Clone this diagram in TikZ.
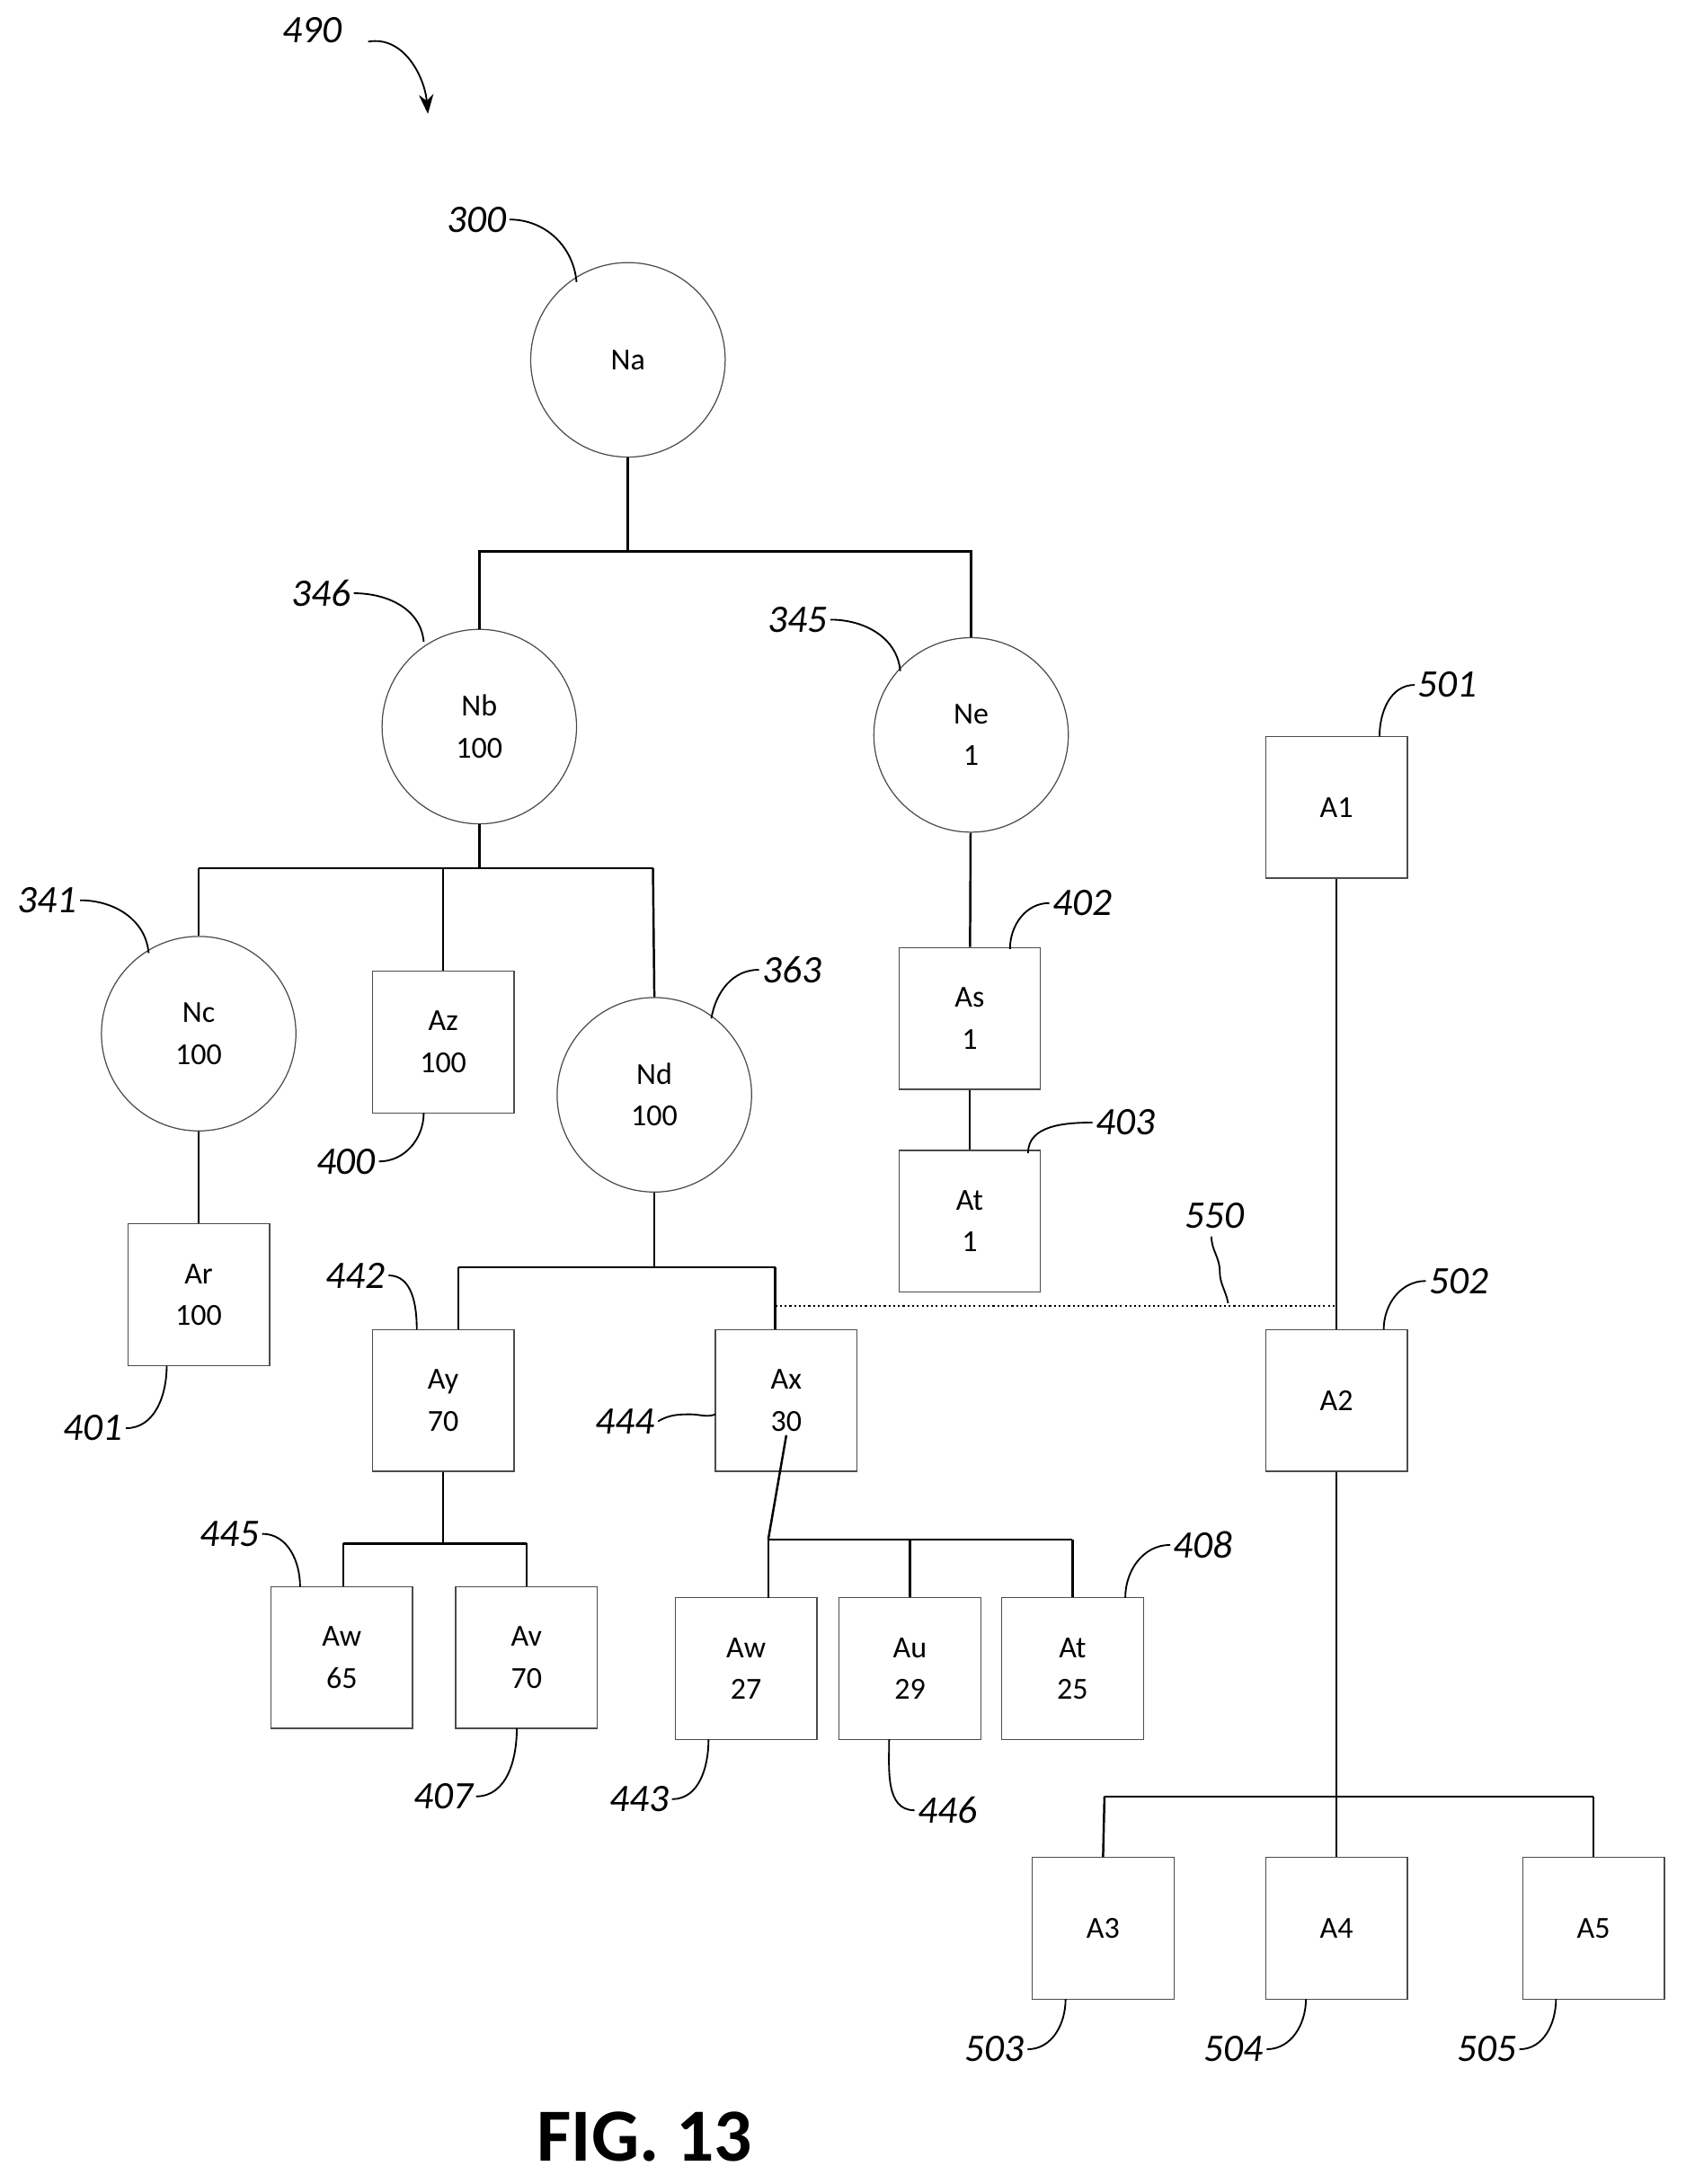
\documentclass[tikz,border=0pt]{standalone}
\usepackage{fontspec}
\setmainfont{Carlito}
\usetikzlibrary{arrows.meta}
\tikzset{
  circ/.style={circle,draw=black!70,minimum size=70pt,inner sep=0pt,align=center,font=\fontsize{11}{15}\selectfont},
  box/.style={rectangle,draw=black!70,minimum size=51pt,inner sep=0pt,align=center,font=\fontsize{11}{15}\selectfont},
  lbl/.style={font=\fontsize{14}{16}\selectfont\itshape,inner sep=1pt},
  wire/.style={draw=black,line width=0.8pt},
  lead/.style={draw=black,line width=0.6pt}
}
\begin{document}
\begin{tikzpicture}[x=0.5pt,y=-0.5pt]
\useasboundingbox (0,0) rectangle (1213,1572);
% tree nodes
\node[circ] (na) at (452,259) {Na};
\node[circ] (nb) at (345,523) {Nb\\100};
\node[circ] (ne) at (699,529) {Ne\\1};
\node[circ] (nc) at (143,744) {Nc\\100};
\node[box]  (az) at (319,750) {Az\\100};
\node[circ] (nd) at (471,788) {Nd\\100};
\node[box]  (ar) at (143,932) {Ar\\100};
\node[box]  (as) at (698,733) {As\\1};
\node[box]  (at) at (698,879) {At\\1};
\node[box]  (aone) at (962,581) {A1};
\node[box]  (atwo) at (962,1008) {A2};
\node[box]  (ay) at (319,1008) {Ay\\70};
\node[box]  (ax) at (566,1008) {Ax\\30};
\node[box]  (awa) at (246,1193) {Aw\\65};
\node[box]  (ava) at (379,1193) {Av\\70};
\node[box]  (awb) at (537,1201) {Aw\\27};
\node[box]  (aub) at (655,1201) {Au\\29};
\node[box]  (atb) at (772,1201) {At\\25};
\node[box]  (athree) at (794,1388) {A3};
\node[box]  (afour) at (962,1388) {A4};
\node[box]  (afive) at (1147,1388) {A5};
% connectors
\draw[wire] (na.south) -- (452,397) coordinate (j1);
\draw[wire] (349,397) -| (nb.north);
\draw[wire] (349,397) -- (699,397) -- (ne.north);
\draw[wire] (nb.south) -- (345,625);
\draw[wire] (143,625) -- (470,625);
\draw[wire] (143,625) -- (nc.north);
\draw[wire] (319,625) -- (az.north);
\draw[wire] (470,625) -- (nd.north);
\draw[wire] (nc) -- (ar);
\draw[wire] (ne) -- (as);
\draw[wire] (as) -- (at);
\draw[wire] (nd.south) -- (471,912);
\draw[wire] (330,912) -- (558,912);
\draw[wire] (330,912) -- (330,957);
\draw[wire] (558,912) -- (558,957);
\draw[densely dotted,line width=0.7pt] (558,940) -- (962,940);
\draw[wire] (aone) -- (atwo);
\draw[wire] (ay.south) -- (319,1111);
\draw[wire] (247,1111) -- (379,1111);
\draw[wire] (247,1111) -- (247,1142);
\draw[wire] (379,1111) -- (379,1142);
\draw[wire] (ax.south |- 0,1033) -- (553,1108);
\draw[wire] (553,1108) -- (772,1108);
\draw[wire] (553,1108) -- (553,1150);
\draw[wire] (655,1108) -- (aub.north);
\draw[wire] (772,1108) -- (atb.north);
\draw[wire] (atwo) -- (962,1293);
\draw[wire] (795,1293) -- (1147,1293);
\draw[wire] (795,1293) -- (athree.north);
\draw[wire] (962,1293) -- (afour.north);
\draw[wire] (1147,1293) -- (afive.north);
% reference labels
\node[lbl] (l490) at (225,22) {490};
\draw[lead,-{Stealth[length=7pt]}] (265,30) to[out=10,in=95] (308,82);
\node[lbl] (l300) at (343,158) {300};
\draw[lead] (l300.east) to[out=0,in=95] (415,203);
\node[lbl] (l346) at (231,427) {346};
\draw[lead] (l346.east) to[out=0,in=95] (305,462);
\node[lbl] (l345) at (574,446) {345};
\draw[lead] (l345.east) to[out=0,in=95] (648,483);
\node[lbl] (l341) at (34,648) {341};
\draw[lead] (l341.east) to[out=0,in=95] (107,686);
\node[lbl] (l363) at (570,698) {363};
\draw[lead] (l363.west) to[out=180,in=80] (512,733);
\node[lbl] (l400) at (249,836) {400};
\draw[lead] (l400.east) to[out=0,in=-90] (305,801);
\node[lbl] (l402) at (779,650) {402};
\draw[lead] (l402.west) to[out=180,in=90] (727,683);
\node[lbl] (l403) at (810,808) {403};
\draw[lead] (l403.west) to[out=180,in=90] (740,830);
\node[lbl] (l401) at (67,1028) {401};
\draw[lead] (l401.east) to[out=0,in=-90] (120,983);
\node[lbl] (l550) at (874,875) {550};
\draw[lead] (872,890) to[out=-90,in=90] (878,915) to[out=-90,in=100] (884,938);
\node[lbl] (l501) at (1042,493) {501};
\draw[lead] (l501.west) to[out=180,in=90] (993,530);
\node[lbl] (l502) at (1050,922) {502};
\draw[lead] (l502.west) to[out=180,in=90] (996,957);
\node[lbl] (l442) at (256,918) {442};
\draw[lead] (l442.east) to[out=0,in=90] (300,957);
\node[lbl] (l444) at (450,1023) {444};
\draw[lead] (l444.east) to[out=30,in=180] (497,1018) to[out=0,in=200] (515,1018);
\node[lbl] (l445) at (165,1104) {445};
\draw[lead] (l445.east) to[out=0,in=90] (216,1142);
\node[lbl] (l408) at (866,1112) {408};
\draw[lead] (l408.west) to[out=180,in=90] (810,1150);
\node[lbl] (l407) at (319,1293) {407};
\draw[lead] (l407.east) to[out=0,in=-90] (372,1244);
\node[lbl] (l443) at (460,1295) {443};
\draw[lead] (l443.east) to[out=0,in=-90] (510,1252);
\node[lbl] (l446) at (682,1303) {446};
\draw[lead] (l446.west) to[out=180,in=-90] (640,1252);
\node[lbl] (l503) at (716,1475) {503};
\draw[lead] (l503.east) to[out=0,in=-90] (767,1439);
\node[lbl] (l504) at (888,1475) {504};
\draw[lead] (l504.east) to[out=0,in=-90] (940,1439);
\node[lbl] (l505) at (1070,1475) {505};
\draw[lead] (l505.east) to[out=0,in=-90] (1120,1439);
\node[font=\fontsize{27}{30}\selectfont\bfseries] (fig) at (464,1538) {FIG. 13};
\end{tikzpicture}
\end{document}
